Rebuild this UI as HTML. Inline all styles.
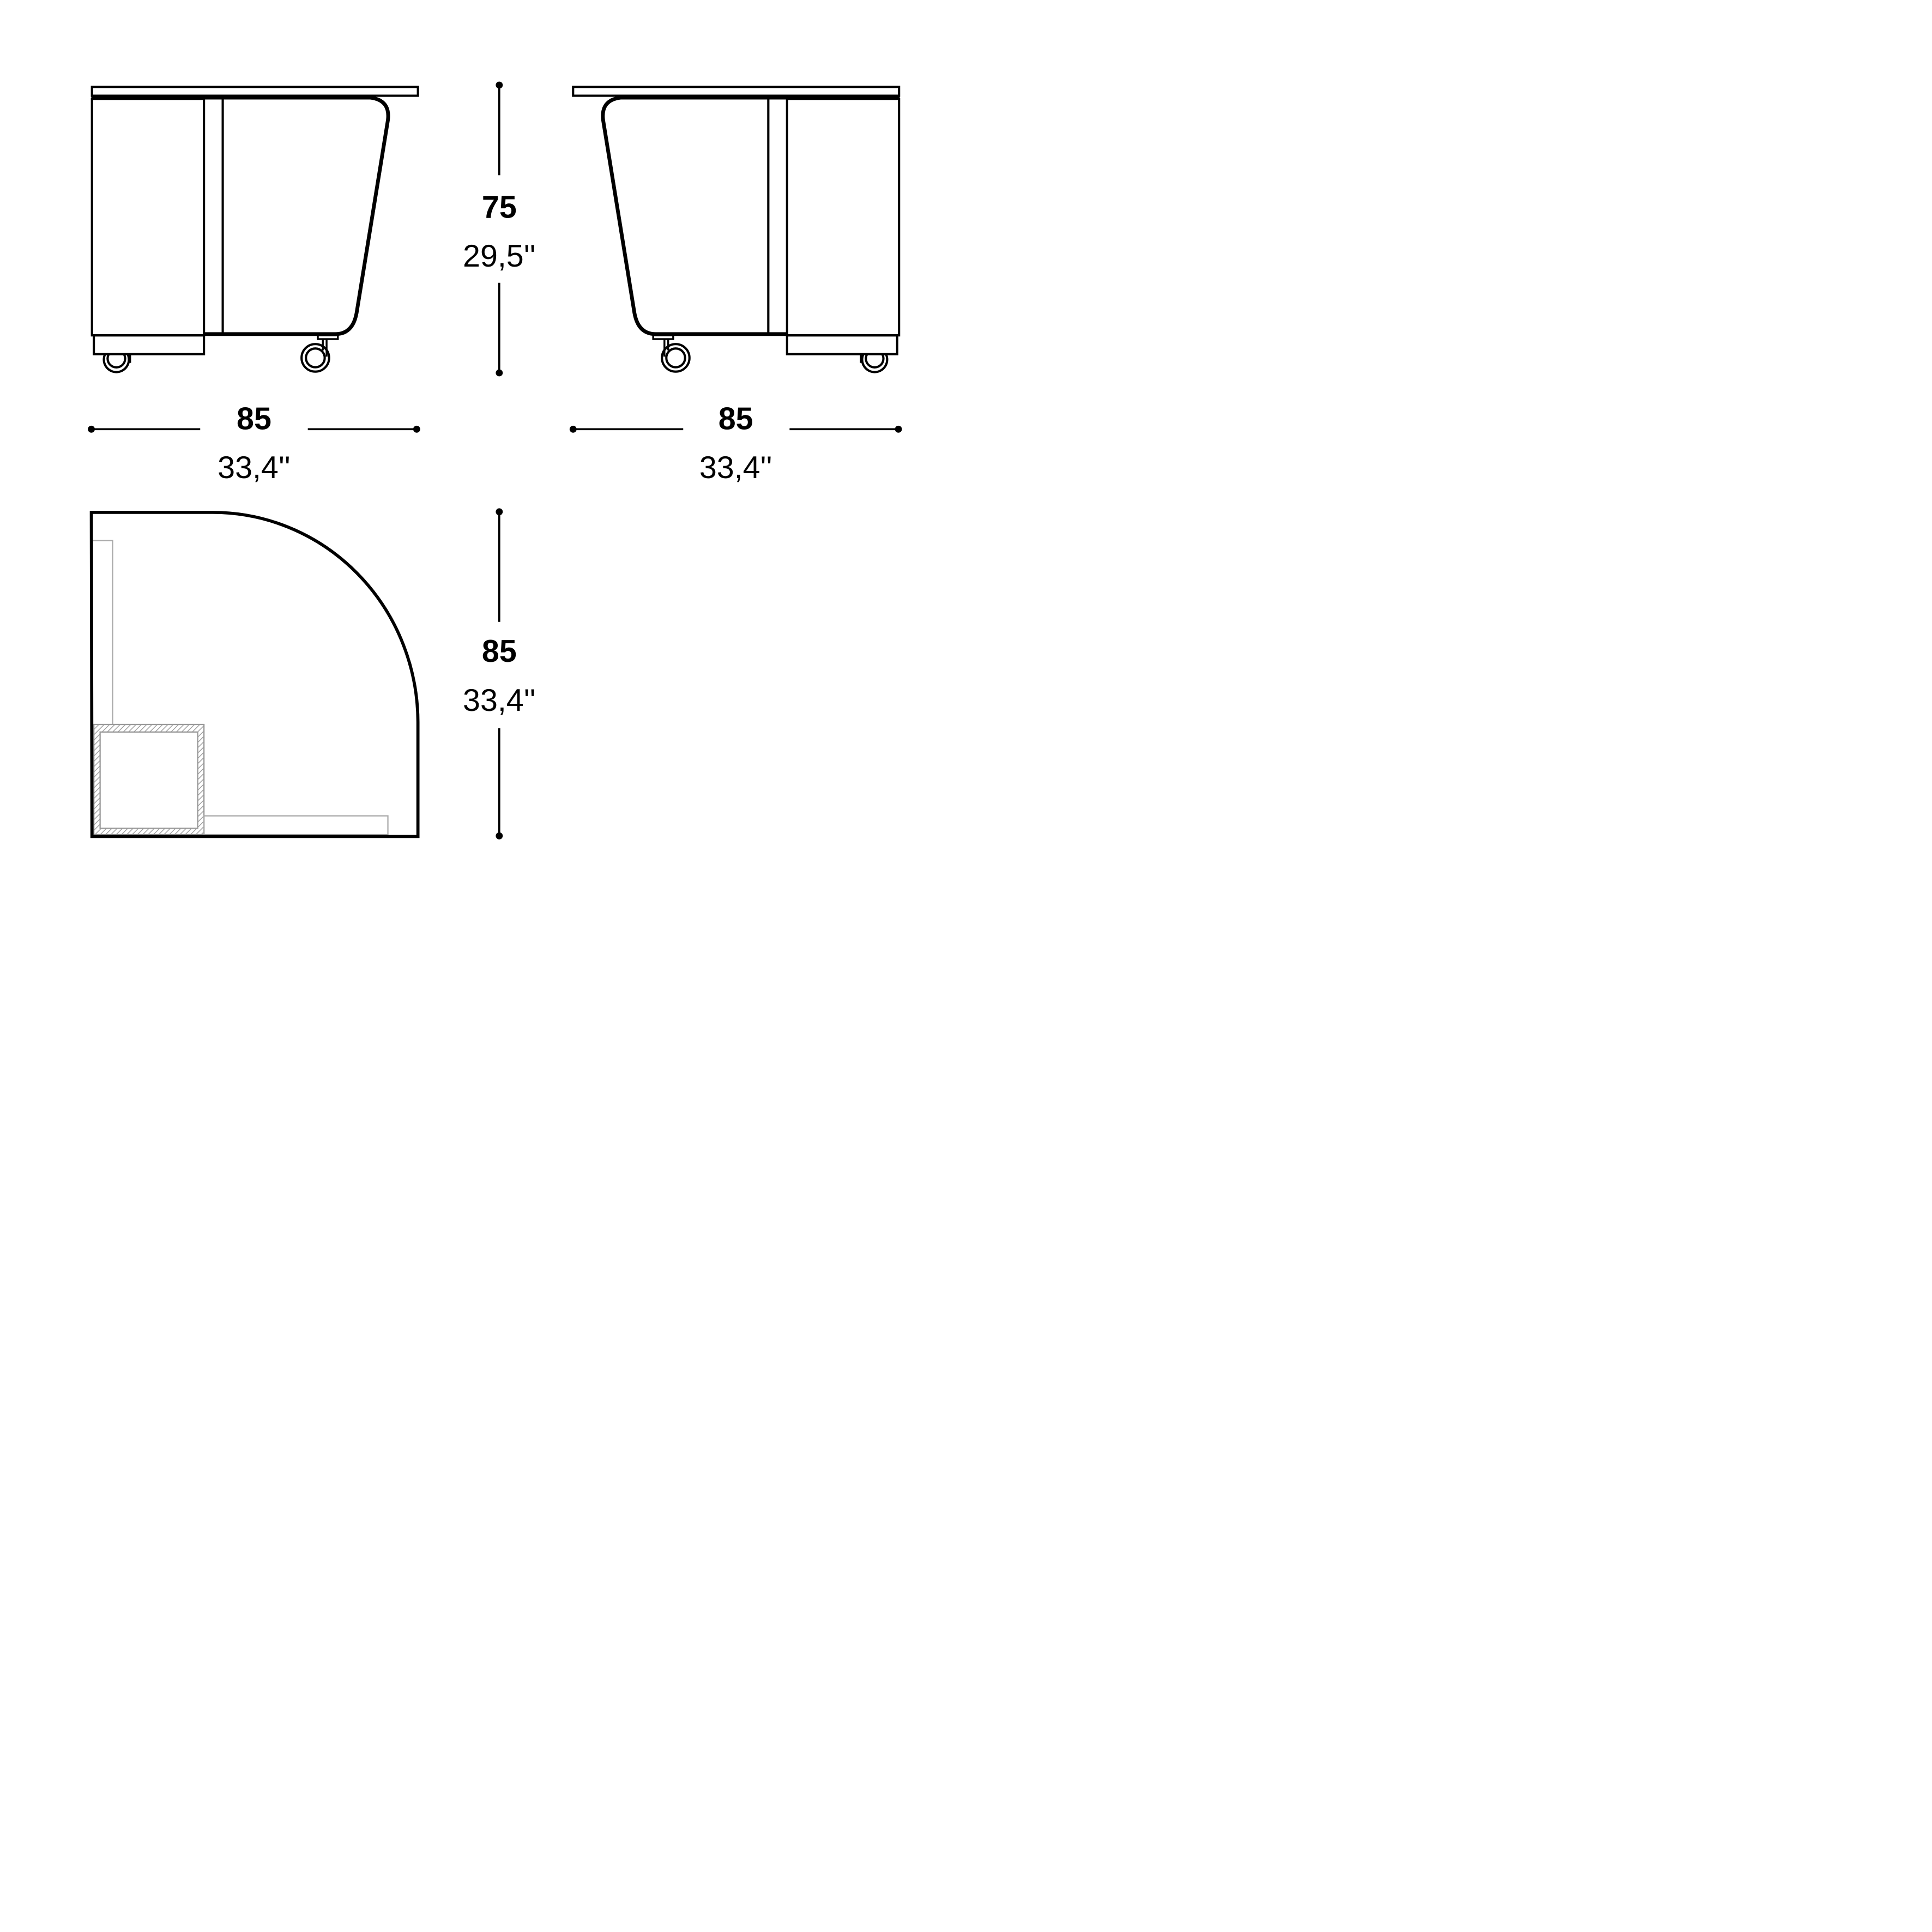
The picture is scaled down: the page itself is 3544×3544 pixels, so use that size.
<!DOCTYPE html>
<html><head><style>html,body{margin:0;padding:0;background:#fff}svg{display:block}</style></head>
<body>
<svg width="3544" height="3544" viewBox="0 0 1544 1544" xmlns="http://www.w3.org/2000/svg">
<defs>
<pattern id="h" width="3" height="3" patternUnits="userSpaceOnUse" patternTransform="rotate(45)">
<rect width="3" height="3" fill="#fff"/><line x1="0" y1="0" x2="0" y2="3" stroke="#999" stroke-width="1.2"/>
</pattern>
<g id="unit" fill="none" stroke="#000">
<rect x="73.5" y="69.5" width="260.5" height="7" stroke-width="1.8"/>
<line x1="73" y1="78" x2="298" y2="78" stroke-width="3"/>
<rect x="73.5" y="79" width="89.5" height="189" stroke-width="1.8"/>
<rect x="75" y="268" width="88" height="15" stroke-width="1.8"/>
<line x1="178" y1="79" x2="178" y2="267" stroke-width="1.8"/>
<path d="M163,267 H268 Q282,267 285,250 L310,96 Q312,80 296,78" stroke-width="3"/>
<rect x="254" y="268" width="16" height="3" stroke-width="1.5"/>
<line x1="261" y1="271" x2="261" y2="285" stroke-width="1.5"/>
<line x1="258" y1="271" x2="258" y2="280" stroke-width="1.5"/>
<circle cx="252" cy="286" r="11" stroke-width="1.8"/>
<circle cx="252" cy="286" r="7.5" stroke-width="1.8"/>
<path d="M84,283 A10,10 0 1 0 102,283" stroke-width="1.8"/>
<path d="M87,283 A7,7 0 1 0 99,283" stroke-width="1.8"/>
<line x1="104" y1="283" x2="104" y2="290" stroke-width="1.5"/>
</g>
</defs>
<use href="#unit"/>
<use href="#unit" transform="translate(792,0) scale(-1,1)"/>

<g stroke="#000" stroke-width="1.6">
<line x1="399" y1="68" x2="399" y2="140"/><line x1="399" y1="226" x2="399" y2="298"/>
<line x1="73" y1="343" x2="160" y2="343"/><line x1="246" y1="343" x2="333" y2="343"/>
<line x1="458" y1="343" x2="546" y2="343"/><line x1="631" y1="343" x2="718" y2="343"/>
<line x1="399" y1="409" x2="399" y2="497"/><line x1="399" y1="582" x2="399" y2="668"/>
</g>
<g fill="#000">
<circle cx="399" cy="68" r="2.8"/><circle cx="399" cy="298" r="2.8"/>
<circle cx="73" cy="343" r="2.8"/><circle cx="333" cy="343" r="2.8"/>
<circle cx="458" cy="343" r="2.8"/><circle cx="718" cy="343" r="2.8"/>
<circle cx="399" cy="409" r="2.8"/><circle cx="399" cy="668" r="2.8"/>
</g>
<g font-family="Liberation Sans, sans-serif" font-size="25" text-anchor="middle" fill="#000">
<text x="399" y="174" font-weight="bold">75</text>
<text x="399" y="213">29,5''</text>
<text x="203" y="343" font-weight="bold">85</text>
<text x="203" y="382">33,4''</text>
<text x="588" y="343" font-weight="bold">85</text>
<text x="588" y="382">33,4''</text>
<text x="399" y="529" font-weight="bold">85</text>
<text x="399" y="568">33,4''</text>
</g>

<rect x="74" y="432" width="16" height="148" fill="none" stroke="#aaa" stroke-width="1"/>
<rect x="75" y="579" width="88" height="88" fill="url(#h)" stroke="#999" stroke-width="1"/>
<rect x="80" y="585" width="78" height="77" fill="#fff" stroke="#999" stroke-width="1"/>
<rect x="163" y="652" width="147" height="15" fill="none" stroke="#aaa" stroke-width="1"/>
<path d="M73,409.5 H170 A164,168 0 0 1 334,577 V668.5 H73.5 Z" fill="none" stroke="#000" stroke-width="2.5"/>
</svg>
</body></html>
